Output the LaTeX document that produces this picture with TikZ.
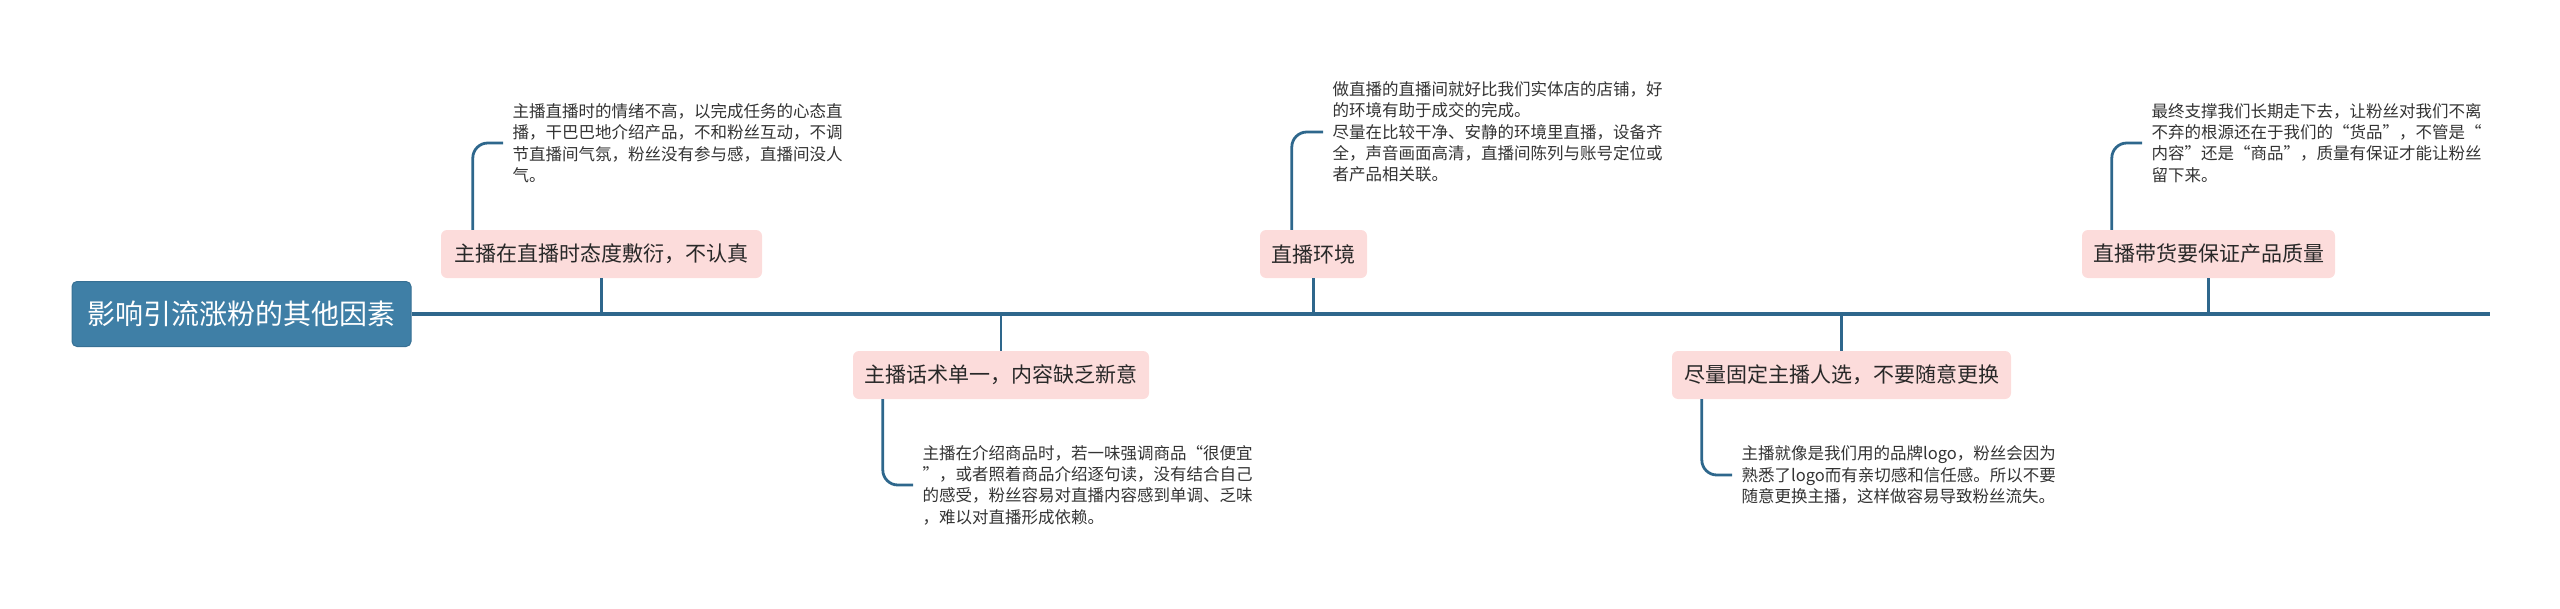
\documentclass[tikz,border=0pt]{standalone}
\usepackage{fontspec}
\setmainfont{Noto Sans CJK SC}
\newfontfamily\fwquote[RawFeature=+fwid]{Noto Sans CJK SC}
\newcommand{\myLq}{{\fwquote “}}
\newcommand{\myRq}{{\fwquote ”}}
\definecolor{rootblue}{RGB}{63,127,166}
\definecolor{rootedge}{RGB}{55,112,148}
\definecolor{linecol}{RGB}{46,103,140}
\definecolor{pinkfill}{RGB}{252,220,219}
\definecolor{topictext}{RGB}{40,40,40}
\definecolor{detailtext}{RGB}{51,51,51}
\begin{document}
\begin{tikzpicture}[x=1pt,y=-1pt,
  rootbox/.style={draw=rootedge, line width=1pt, fill=rootblue, rounded corners=5pt, minimum width=339pt, minimum height=65pt, inner sep=0pt, text=white, font=\fontsize{28}{32}\selectfont},
  topic/.style={fill=pinkfill, rounded corners=6pt, minimum height=48pt, inner xsep=11pt, inner ysep=0pt, text=topictext, font=\fontsize{21}{25}\selectfont},
  detail/.style={anchor=west, inner xsep=9.5pt, inner ysep=0pt, align=left, text=detailtext, font=\fontsize{16.5}{21.3}\selectfont},
  conn/.style={draw=linecol, line width=2.8pt, rounded corners=15pt},
  stem/.style={draw=linecol, line width=2.2pt},
  spine/.style={draw=linecol, line width=3.2pt}]
\useasboundingbox (0,0) rectangle (2560,608);

\node[rootbox] (root) at (241.5,314) {影响引流涨粉的其他因素};
\coordinate (end) at (2490,314);
\draw[spine] (root.east) -- (end);

% top topics
\node[topic, minimum width=321pt] (t1) at (601.5,254) {主播在直播时态度敷衍，不认真};
\node[topic, minimum width=107pt] (t2) at (1313.5,254) {直播环境};
\node[topic, minimum width=253pt] (t3) at (2208.5,254) {直播带货要保证产品质量};
\draw[stem] (t1.south) -- (t1.south |- end);
\draw[stem] (t2.south) -- (t2.south |- end);
\draw[stem] (t3.south) -- (t3.south |- end);

% bottom topics
\node[topic, minimum width=296pt] (b1) at (1001,375) {主播话术单一，内容缺乏新意};
\node[topic, minimum width=339pt] (b2) at (1841.5,375) {尽量固定主播人选，不要随意更换};
\draw[stem] (b1.north |- end) -- (b1.north);
\draw[stem] (b2.north |- end) -- (b2.north);

% details
\node[detail] (d1) at (503,143) {主播直播时的情绪不高，以完成任务的心态直\\播，干巴巴地介绍产品，不和粉丝互动，不调\\节直播间气氛，粉丝没有参与感，直播间没人\\气。};
\draw[conn] ([xshift=32pt]t1.north west) |- (d1.west);

\node[detail] (d2) at (1323,132) {做直播的直播间就好比我们实体店的店铺，好\\的环境有助于成交的完成。\\尽量在比较干净、安静的环境里直播，设备齐\\全，声音画面高清，直播间陈列与账号定位或\\者产品相关联。};
\draw[conn] ([xshift=32pt]t2.north west) |- (d2.west);

\node[detail] (d3) at (2142,143) {最终支撑我们长期走下去，让粉丝对我们不离\\不弃的根源还在于我们的\myLq 货品\myRq ，不管是\myLq\\内容\myRq 还是\myLq 商品\myRq ，质量有保证才能让粉丝\\留下来。};
\draw[conn] ([xshift=30pt]t3.north west) |- (d3.west);

\node[detail] (d4) at (913,485) {主播在介绍商品时，若一味强调商品\myLq 很便宜\\\myRq ，或者照着商品介绍逐句读，没有结合自己\\的感受，粉丝容易对直播内容感到单调、乏味\\，难以对直播形成依赖。};
\draw[conn] ([xshift=30pt]b1.south west) |- (d4.west);

\node[detail] (d5) at (1732,475) {主播就像是我们用的品牌logo，粉丝会因为\\熟悉了logo而有亲切感和信任感。所以不要\\随意更换主播，这样做容易导致粉丝流失。};
\draw[conn] ([xshift=30pt]b2.south west) |- (d5.west);
\end{tikzpicture}
\end{document}
